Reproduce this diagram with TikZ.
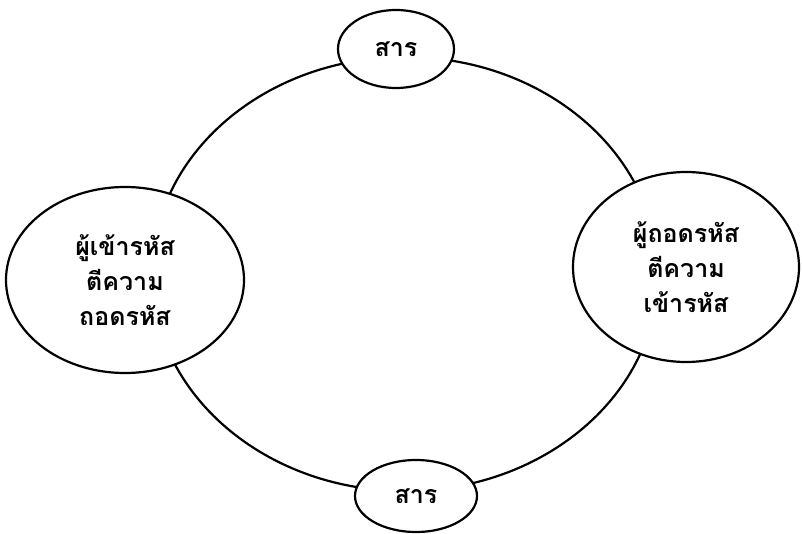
\documentclass[tikz,border=0pt]{standalone}
\usepackage{fontspec}
\newfontfamily\thaifont[Script=Thai]{Loma}
\usetikzlibrary{shapes.geometric}
\begin{document}
\begin{tikzpicture}[x=1pt,y=-1pt,
  ring/.style={line width=2.2pt, draw=black},
  bubble/.style={ellipse, draw=black, line width=2.2pt, fill=white, inner sep=0pt,
    align=center, font=\thaifont\bfseries\fontsize{25}{35}\selectfont}]
\useasboundingbox (0,0) rectangle (802,534);
\draw[ring] (405,274) ellipse [x radius=253pt, y radius=217pt];
\node[bubble, minimum width=116pt, minimum height=78pt] (top) at (396,49) {สาร};
\node[bubble, minimum width=122pt, minimum height=72pt] (bottom) at (416,496) {สาร};
\node[bubble, minimum width=238pt, minimum height=186pt] (left) at (125,280) {ผู้เข้ารหัส\\ตีความ\\ถอดรหัส};
\node[bubble, minimum width=226pt, minimum height=190pt] (right) at (686,267) {ผู้ถอดรหัส\\ตีความ\\เข้ารหัส};
\end{tikzpicture}
\end{document}
